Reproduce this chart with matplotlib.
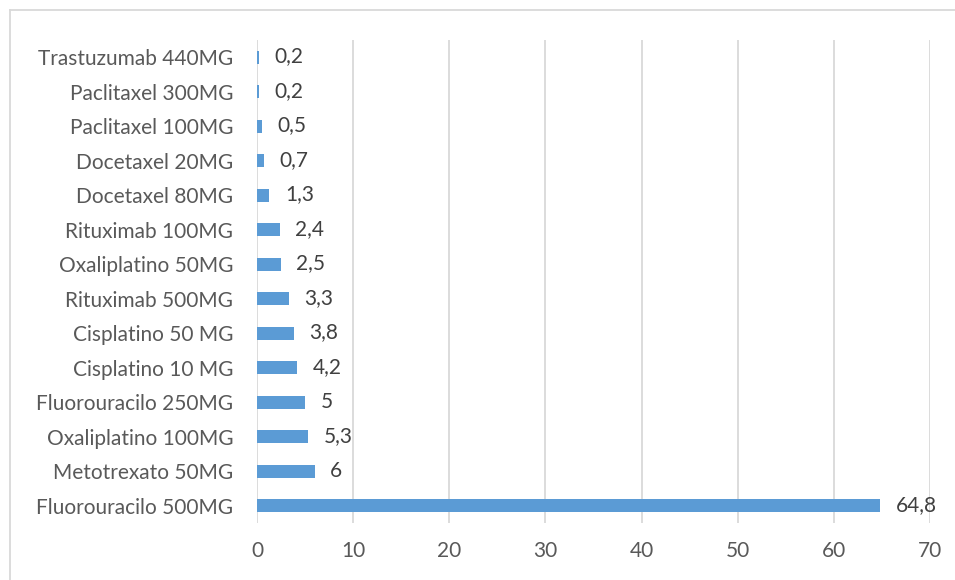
import matplotlib.pyplot as plt
from matplotlib.lines import Line2D

plt.rcParams['font.family'] = ['Lato', 'DejaVu Sans']

farmacos = ["Fluorouracilo 500MG", "Metotrexato 50MG", "Oxaliplatino 100MG",
            "Fluorouracilo 250MG", "Cisplatino 10 MG", "Cisplatino 50 MG",
            "Rituximab 500MG", "Oxaliplatino 50MG", "Rituximab 100MG",
            "Docetaxel 80MG", "Docetaxel 20MG", "Paclitaxel 100MG",
            "Paclitaxel 300MG", "Trastuzumab 440MG"]
valores = [64.8, 6, 5.3, 5, 4.2, 3.8, 3.3, 2.5, 2.4, 1.3, 0.7, 0.5, 0.2, 0.2]
ticks_x = [0, 10, 20, 30, 40, 50, 60, 70]

fig = plt.figure(figsize=(9.55, 5.8), dpi=100)
ax = fig.add_axes([257 / 955, 1 - 523 / 580, (930 - 257) / 955, (523 - 40) / 580])

pos = list(range(len(farmacos)))
ax.barh(pos, valores, height=0.38, color="#5b9bd5", zorder=3)

for p, v in zip(pos, valores):
    txt = f"{v:g}".replace(".", ",")
    ax.text(v + 1.6, p + 0.02, txt, va="center", ha="left", fontsize=15,
            color="#404040", zorder=4)

ax.set_xlim(0, 70)
ax.set_ylim(-0.5, len(farmacos) - 0.5)
ax.set_xticks(ticks_x)
ax.set_yticks(pos)
ax.set_yticklabels(farmacos)
ax.tick_params(axis="both", length=0, labelsize=15, colors="#595959")
ax.tick_params(axis="x", pad=13)
ax.tick_params(axis="y", pad=17)
ax.grid(axis="x", color="#d9d9d9", linewidth=1.3, zorder=0)
for s in ax.spines.values():
    s.set_visible(False)

# marco exterior del gráfico
fig.add_artist(Line2D([10 / 955, 10 / 955], [0, 1 - 10 / 580],
                      transform=fig.transFigure, color="#d9d9d9", lw=1.3))
fig.add_artist(Line2D([10 / 955, 1], [1 - 10 / 580, 1 - 10 / 580],
                      transform=fig.transFigure, color="#d9d9d9", lw=1.3))

fig.savefig("out.png", dpi=100)
